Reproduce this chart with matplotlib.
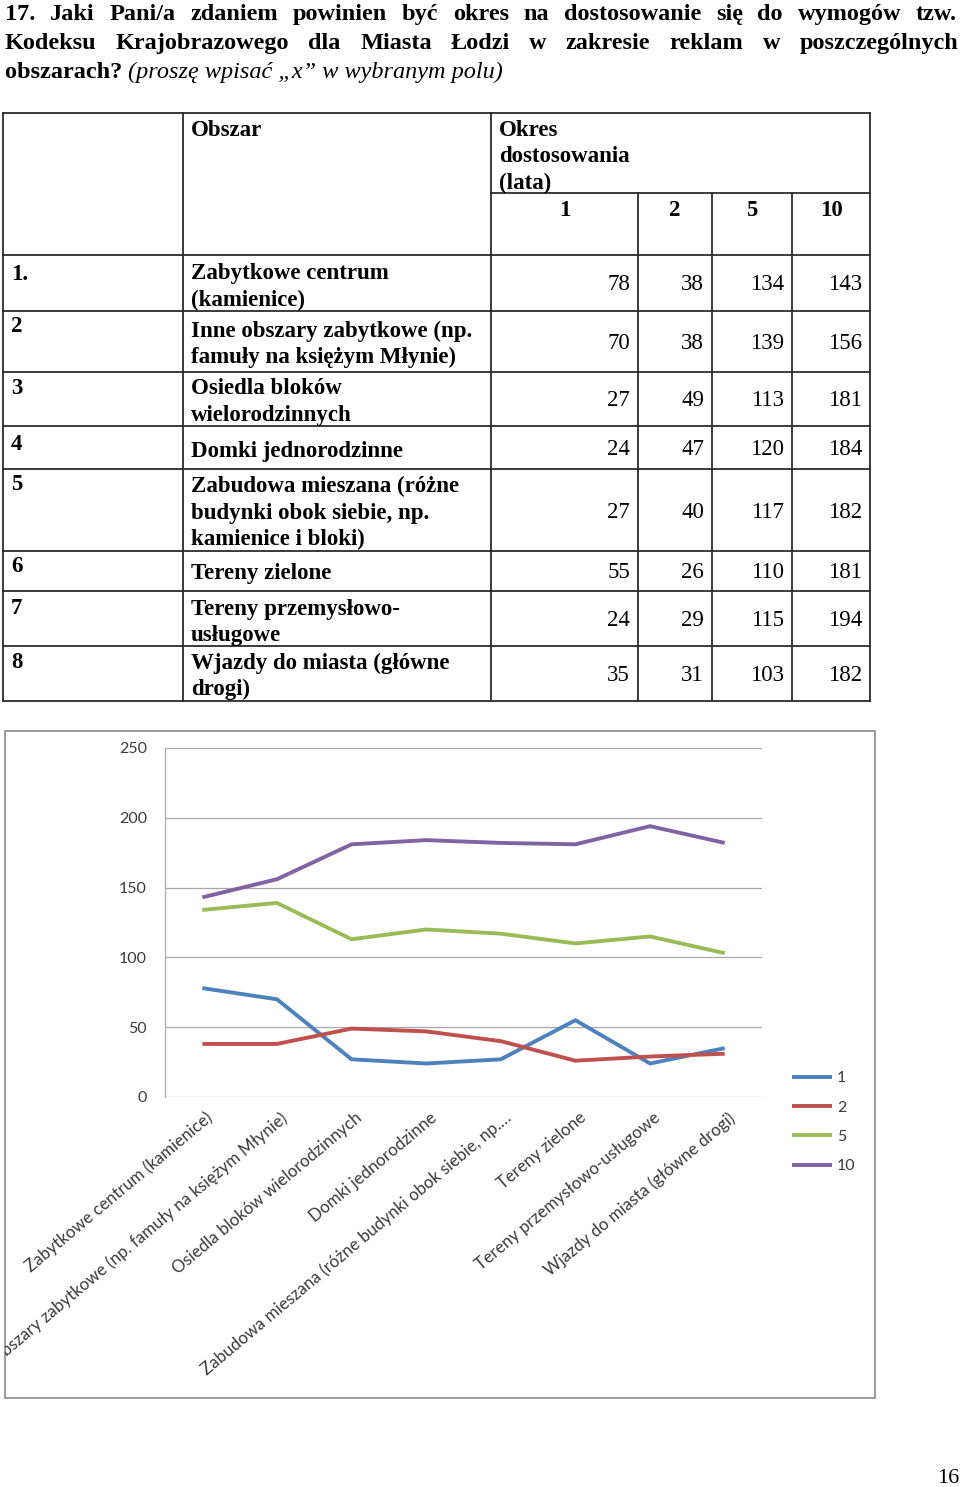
import matplotlib
matplotlib.use("Agg")
import matplotlib.pyplot as plt
from matplotlib.patches import Rectangle
from matplotlib.transforms import ScaledTranslation

# --- data ---
row_no = ["1.", "2", "3", "4", "5", "6", "7", "8"]
row_text = [["Zabytkowe centrum", "(kamienice)"],
            ["Inne obszary zabytkowe (np.", "famuły na księżym Młynie)"],
            ["Osiedla bloków", "wielorodzinnych"],
            ["Domki jednorodzinne"],
            ["Zabudowa mieszana (różne", "budynki obok siebie, np.", "kamienice i bloki)"],
            ["Tereny zielone"],
            ["Tereny przemysłowo-", "usługowe"],
            ["Wjazdy do miasta (główne", "drogi)"]]
categories = ["Zabytkowe centrum (kamienice)",
              "Inne obszary zabytkowe (np. famuły na księżym Młynie)",
              "Osiedla bloków wielorodzinnych",
              "Domki jednorodzinne",
              "Zabudowa mieszana (różne budynki obok siebie, np.…",
              "Tereny zielone",
              "Tereny przemysłowo-usługowe",
              "Wjazdy do miasta (główne drogi)"]
periods = ["1", "2", "5", "10"]
val_1 = [78, 70, 27, 24, 27, 55, 24, 35]
val_2 = [38, 38, 49, 47, 40, 26, 29, 31]
val_5 = [134, 139, 113, 120, 117, 110, 115, 103]
val_10 = [143, 156, 181, 184, 182, 181, 194, 182]
series = [val_1, val_2, val_5, val_10]
colors = ["#4F81BD", "#C0504D", "#9BBB59", "#8064A2"]

title1 = "17. Jaki Pani/a zdaniem powinien być okres na dostosowanie się do wymogów tzw."
title2 = "Kodeksu Krajobrazowego dla Miasta Łodzi w zakresie reklam w poszczególnych"
title3a = "obszarach? "
title3b = "(proszę wpisać „x” w wybranym polu)"

W, H = 960, 1487
fig = plt.figure(figsize=(W / 100, H / 100), dpi=100)
page = fig.add_axes([0, 0, 1, 1])
page.set_xlim(0, W)
page.set_ylim(H, 0)
page.axis("off")

serif = "Liberation Serif"
r = fig.canvas.get_renderer()


def justify(line, y, x0, x1, **kw):
    words = line.split()
    ts = [page.text(0, y, w, **kw) for w in words]
    ws = [t.get_window_extent(r).width for t in ts]
    gap = (x1 - x0 - sum(ws)) / (len(ws) - 1)
    x = x0
    for t, w in zip(ts, ws):
        t.set_x(x)
        x += w + gap


tkw = dict(family=serif, weight="bold", fontsize=17.5, va="baseline", ha="left")
justify(title1, 20, 5, 957, **tkw)
justify(title2, 49, 5, 958, **tkw)
t3 = page.text(5, 78, title3a, **tkw)
wb = t3.get_window_extent(r).width
page.text(5 + wb, 78, title3b, family=serif, style="italic", fontsize=17.5,
          va="baseline", ha="left")

# --- table ---
lc = "#2b2b2b"
lw = 1.3
xl, xc1, xc2, xr = 3, 183, 491, 870
sub_x = [491, 638, 712, 792, 870]
row_y = [255, 311, 372, 426, 469, 551, 591, 646, 701]
top = 113

page.plot([xl, xr], [top, top], color=lc, lw=lw)
for y in row_y:
    page.plot([xl, xr], [y, y], color=lc, lw=lw)
page.plot([xc2, xr], [193, 193], color=lc, lw=lw)
for x in [xl, xc1, xc2, xr]:
    page.plot([x, x], [top, row_y[-1]], color=lc, lw=lw)
for x in sub_x[1:-1]:
    page.plot([x, x], [193, row_y[-1]], color=lc, lw=lw)

fs = 16.5
bkw = dict(family=serif, weight="bold", fontsize=fs, va="baseline")
off = 7.5
page.text(191, 128 + off, "Obszar", ha="left", **bkw)
for i, s in enumerate(["Okres", "dostosowania", "(lata)"]):
    page.text(499, 128 + 27 * i + off, s, ha="left", **bkw)
for i, p in enumerate(periods):
    page.text((sub_x[i] + sub_x[i + 1]) / 2, 209 + off, p, ha="center", **bkw)

no_y = [272, 325, 386, 442, 483, 565, 606, 660]
txt_y = [272, 329, 387, 449, 485, 572, 607, 661]
for i in range(8):
    page.text(11, no_y[i] + off, row_no[i], ha="left", **bkw)
    for j, s in enumerate(row_text[i]):
        page.text(191, txt_y[i] + 26.5 * j + off, s, ha="left", **bkw)
    yc = (row_y[i] + row_y[i + 1]) / 2
    for k, vals in enumerate(series):
        page.text(sub_x[k + 1] - 8, yc + off, str(vals[i]), ha="right",
                  family=serif, fontsize=fs, va="baseline")

page.text(948, 1483, "16", family=serif, fontsize=16, ha="center", va="baseline")

# --- chart ---
frame = Rectangle((5, 731), 870, 667, facecolor="white", edgecolor="#8a8a8a", lw=1.2)
page.add_patch(frame)

ax = fig.add_axes([165 / W, 1 - 1097 / H, 597 / W, 349 / H])
ax.set_facecolor("none")
xs = list(range(len(categories)))
for vals, c, lab in zip(series, colors, periods):
    ax.plot(xs, vals, color=c, lw=2.8, label=lab, solid_capstyle="butt")
ax.set_xlim(-0.5, 7.5)
ax.set_ylim(0, 250)
ax.set_yticks(range(0, 251, 50))
ax.grid(axis="y", color="#a8a8a8", lw=0.9)
ax.set_axisbelow(True)
for s in ["top", "right", "bottom"]:
    ax.spines[s].set_visible(False)
ax.spines["left"].set_color("#a8a8a8")
ax.spines["left"].set_linewidth(0.9)
cfont = "Lato"
ax.tick_params(axis="y", length=0, pad=13, labelsize=11.5, labelcolor="#3a3a3a")
ax.tick_params(axis="x", length=0, pad=9, labelsize=12.2, labelcolor="#3a3a3a")
for lbl in ax.get_yticklabels():
    lbl.set_family(cfont)
ax.set_xticks(xs)
ax.set_xticklabels(categories, rotation=40, ha="right", va="top",
                   rotation_mode="anchor", family=cfont)
shift = ScaledTranslation(3 / 100, 0, fig.dpi_scale_trans)
for lbl in ax.get_xticklabels():
    lbl.set_transform(lbl.get_transform() + shift)
    lbl.set_clip_on(True)
    lbl.set_clip_path(frame)

leg = ax.legend(loc="upper left", bbox_to_anchor=(792 / W, 1 - 1071 / H),
                bbox_transform=fig.transFigure, frameon=False,
                handlelength=2.5, handletextpad=0.3, labelspacing=0.95,
                borderpad=0, borderaxespad=0, prop={"family": cfont, "size": 11.5})
for t in leg.get_texts():
    t.set_color("#3a3a3a")

fig.savefig("out.png", dpi=100)
